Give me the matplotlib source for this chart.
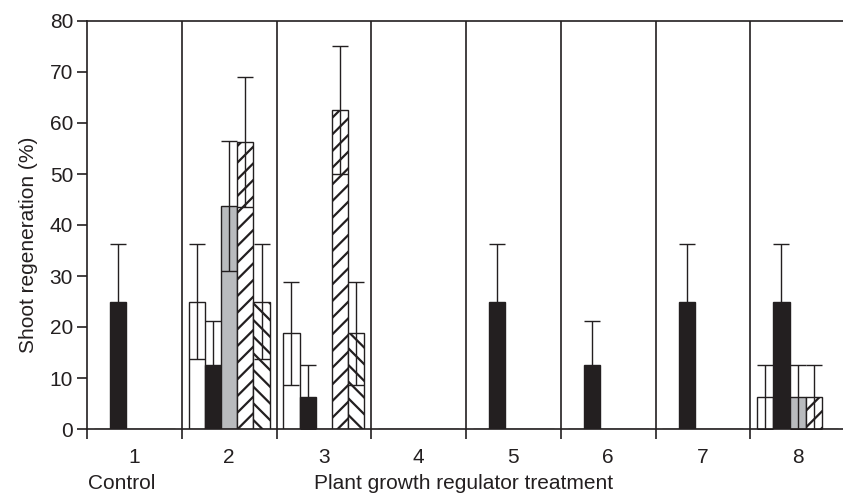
import numpy as np
import matplotlib
matplotlib.use("Agg")
import matplotlib.pyplot as plt

plt.rcParams['font.family'] = ['Liberation Sans', 'DejaVu Sans']
plt.rcParams['hatch.linewidth'] = 1.6
plt.rcParams['hatch.color'] = '#231f20'

# data
groups = ['1', '2', '3', '4', '5', '6', '7', '8']
white = [0, 25, 18.75, 0, 0, 0, 0, 6.25]
black = [25, 12.5, 6.25, 0, 25, 12.5, 25, 25]
gray = [0, 43.75, 0, 0, 0, 0, 0, 6.25]
fwd = [0, 56.25, 62.5, 0, 0, 0, 0, 6.25]
back = [0, 25, 18.75, 0, 0, 0, 0, 0]
white_err = [0, 11.2, 10.1, 0, 0, 0, 0, 6.25]
black_err = [11.2, 8.6, 6.25, 0, 11.2, 8.6, 11.2, 11.2]
gray_err = [0, 12.8, 0, 0, 0, 0, 0, 6.25]
fwd_err = [0, 12.7, 12.5, 0, 0, 0, 0, 6.25]
back_err = [0, 11.2, 10.1, 0, 0, 0, 0, 0]

ink = '#231f20'
fs = 15
series = [
    (white, white_err, 'white', ''),
    (black, black_err, ink, ''),
    (gray, gray_err, '#b9bbbe', ''),
    (fwd, fwd_err, 'white', '//'),
    (back, back_err, 'white', '\\\\'),
]

fig = plt.figure(figsize=(8.43, 4.94), dpi=100)
W, H = 843, 494
ax = fig.add_axes([87 / W, (H - 429) / H, (845 - 87) / W, (429 - 21) / H])

x = np.arange(1, len(groups) + 1)
bw = 0.171
for k, (vals, errs, fc, hatch) in enumerate(series):
    pos = x + (k - 2) * bw
    ax.bar(pos, vals, width=bw, color=fc, edgecolor=ink, linewidth=1.0,
           hatch=hatch, zorder=2)
    vals = np.array(vals)
    errs = np.array(errs)
    m = vals > 0
    ax.errorbar(pos[m], vals[m], yerr=errs[m], fmt='none', ecolor=ink,
                elinewidth=1.0, capsize=5.6, capthick=1.0, zorder=3)

# group separators
for b in x[:-1] + 0.5:
    ax.axvline(b, color=ink, linewidth=1.2, zorder=1)

ax.set_xlim(0.5, 8.5)
ax.set_ylim(0, 80)
ax.set_yticks(np.arange(0, 81, 10))
ax.set_xticks(np.arange(0.5, 8.6, 1.0))
ax.set_xticklabels([])
ax.set_xticks(x, minor=True)
ax.set_xticklabels(groups, minor=True)
ax.tick_params(axis='x', which='major', direction='out', length=7, width=1.2, color=ink)
ax.tick_params(axis='x', which='minor', length=0, pad=14, labelsize=fs, labelcolor=ink)
ax.tick_params(axis='y', direction='out', length=7, width=1.2, color=ink,
               labelsize=fs, labelcolor=ink, pad=3)

for s in ['left', 'bottom', 'top']:
    ax.spines[s].set_linewidth(1.2)
    ax.spines[s].set_color(ink)
ax.spines['right'].set_visible(False)

ax.set_ylabel('Shoot regeneration (%)', fontsize=fs, color=ink)
ax.yaxis.set_label_coords(-49 / 758, (429 - 245) / 408)

fig.text(88 / W, 1 - 483 / H, 'Control', fontsize=fs, color=ink,
         ha='left', va='center')
fig.text(464 / W, 1 - 483 / H, 'Plant growth regulator treatment', fontsize=fs,
         color=ink, ha='center', va='center')

fig.savefig('out.png', dpi=100)
